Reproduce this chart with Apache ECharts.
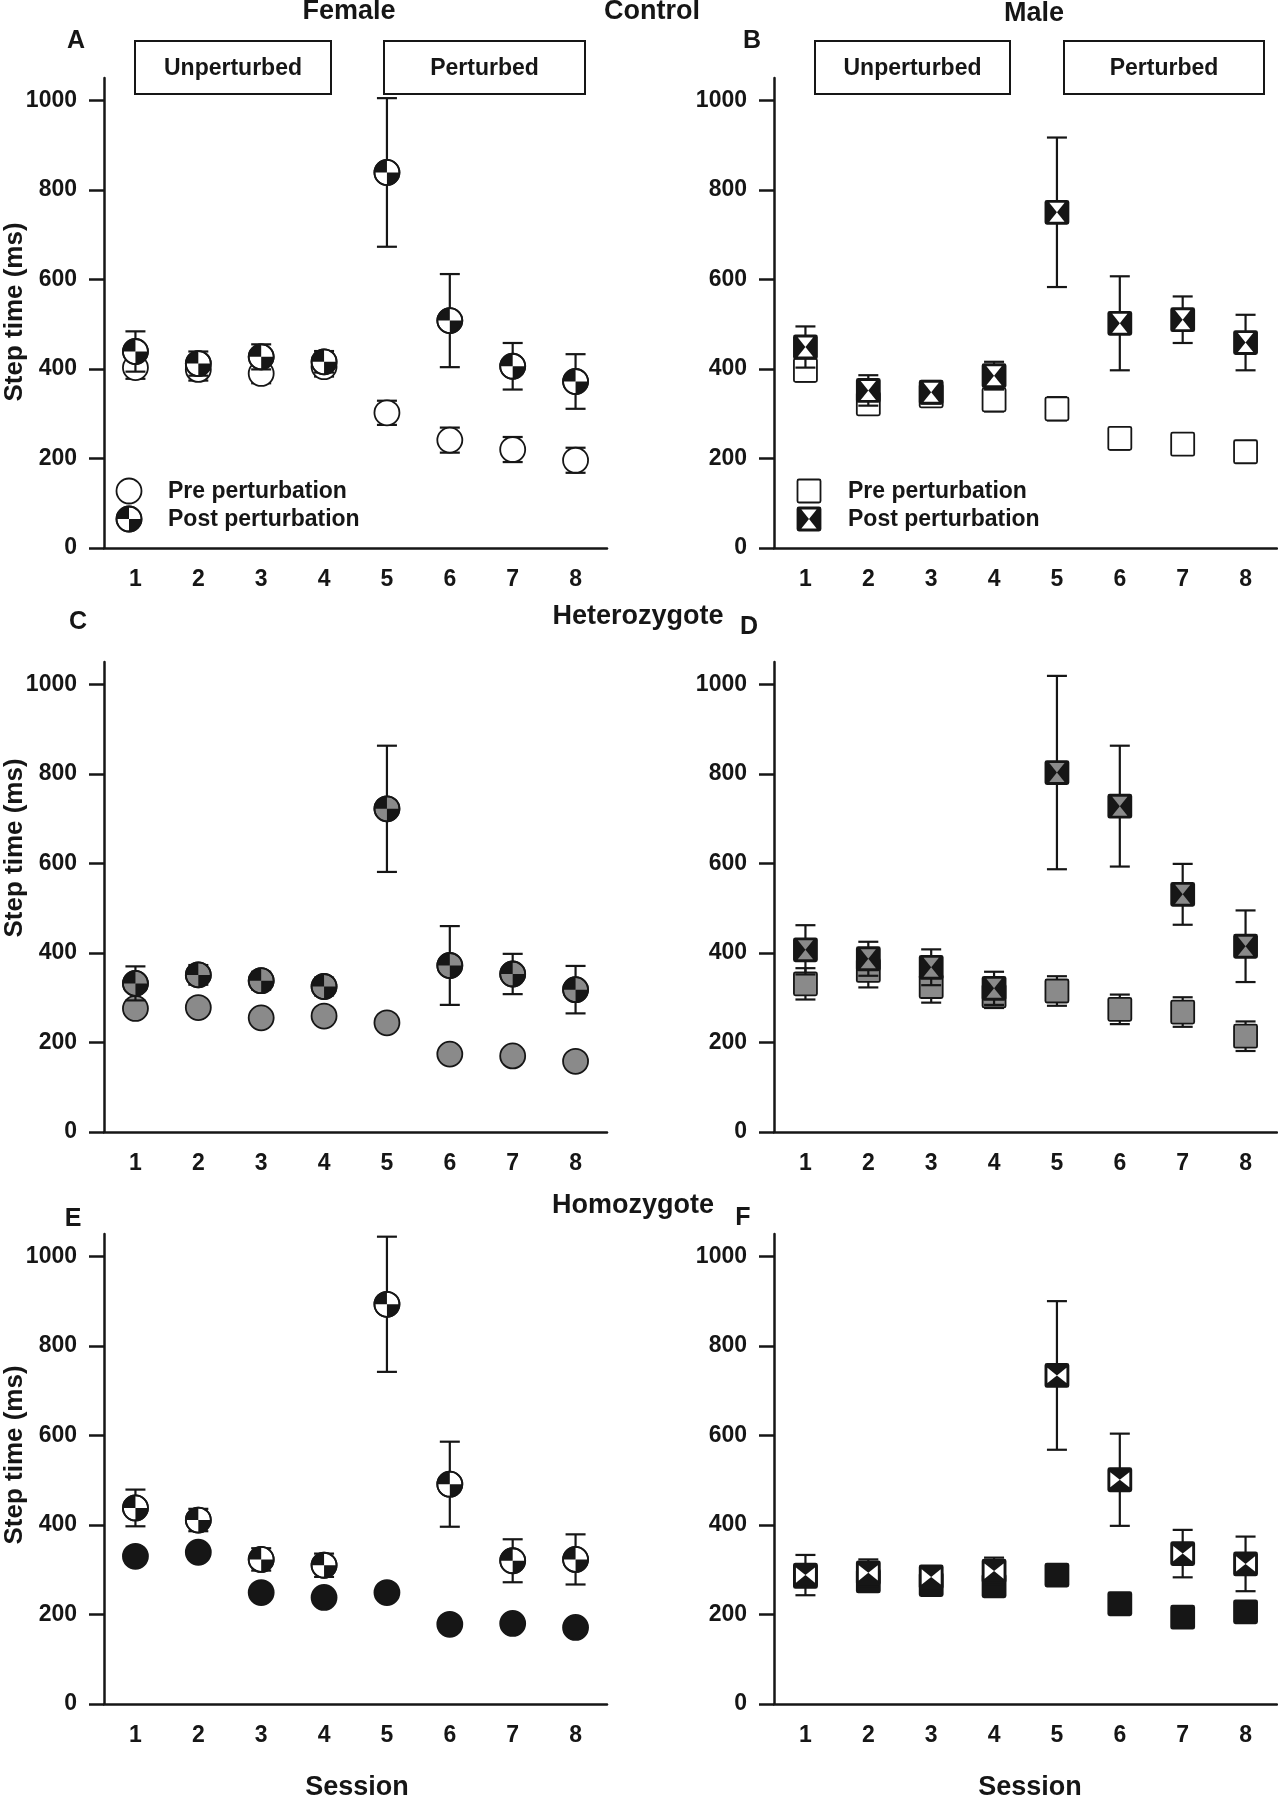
<!DOCTYPE html>
<html><head><meta charset="utf-8">
<script src="https://cdn.jsdelivr.net/npm/echarts@6/dist/echarts.min.js"></script>
<style>html,body{margin:0;padding:0;background:#fff}#c{width:1278px;height:1800px}</style>
</head><body><div id="c"></div>
<script>
// ---------------- DATA ----------------
const sessions = ['1','2','3','4','5','6','7','8'];
const yTicks = [0, 200, 400, 600, 800, 1000];

// A: Control, Female
const A_pre     = [403, 399, 390, 405, 302, 241, 220, 196];
const A_preErr  = [25, 25, 22, 22, 27, 28, 28, 28];
const A_post    = [439, 412, 427, 416, 839, 508, 406, 372];
const A_postErr = [45, 27, 28, 24, 166, 104, 52, 61];
// B: Control, Male
const B_pre     = [397, 322, 340, 331, 311, 245, 232, 215];
const B_preErr  = [25, 23, 20, 26, 26, 25, 24, 24];
const B_post    = [449, 352, 348, 385, 750, 502, 510, 459];
const B_postErr = [46, 34, 25, 31, 167, 105, 52, 62];
// C: Heterozygote, Female
const C_pre     = [276, 278, 255, 259, 244, 174, 170, 158];
const C_preErr  = [12, 12, 12, 12, 12, 12, 12, 12];
const C_post    = [332, 351, 338, 325, 722, 372, 353, 318];
const C_postErr = [38, 22, 20, 20, 141, 88, 45, 53];
// D: Heterozygote, Male
const D_pre     = [331, 361, 325, 304, 315, 274, 268, 214];
const D_preErr  = [35, 38, 36, 27, 33, 33, 33, 33];
const D_post    = [407, 387, 368, 321, 803, 728, 531, 415];
const D_postErr = [55, 38, 40, 37, 216, 135, 68, 80];
// E: Homozygote, Female
const E_pre     = [330, 339, 249, 238, 249, 178, 180, 171];
const E_preErr  = [12, 12, 12, 12, 12, 12, 12, 12];
const E_post    = [438, 411, 323, 310, 893, 491, 320, 323];
const E_postErr = [41, 25, 25, 26, 151, 95, 48, 56];
// F: Homozygote, Male
const F_pre     = [285, 275, 267, 264, 288, 224, 194, 206];
const F_preErr  = [12, 12, 12, 12, 12, 12, 12, 12];
const F_post    = [288, 293, 284, 297, 734, 501, 336, 313];
const F_postErr = [45, 30, 22, 30, 166, 103, 53, 61];

const legendLabels = ['Pre perturbation', 'Post perturbation'];
const boxLabels = ['Unperturbed', 'Perturbed'];

// ---------------- STYLE ----------------
const BLACK = '#161616';
const GRAY = '#8a8a8a';
const FONT = '"Liberation Sans", Arial, sans-serif';
const R = 12.5, S = 11.5, T = 7.6, LW = 1.8;

const M = {
  circleWhite: {shape: 'circle', fill: '#fff'},
  circleGray:  {shape: 'circle', fill: GRAY},
  circleBlack: {shape: 'circle', fill: BLACK},
  quartWhite:  {shape: 'circle', fill: '#fff', quart: BLACK},
  quartGray:   {shape: 'circle', fill: GRAY, quart: BLACK},
  squareWhite: {shape: 'square', fill: '#fff'},
  squareGray:  {shape: 'square', fill: GRAY},
  squareBlack: {shape: 'square', fill: BLACK},
  hourWhite:   {shape: 'square', fill: BLACK, tri: 'v', triFill: '#fff'},
  hourGray:    {shape: 'square', fill: BLACK, tri: 'v', triFill: GRAY},
  bowWhite:    {shape: 'square', fill: BLACK, tri: 'h', triFill: '#fff'}
};

function quadPts(cx, cy, r, a0, a1) {
  const pts = [[cx, cy]];
  const n = 18;
  for (let k = 0; k <= n; k++) {
    const a = a0 + (a1 - a0) * k / n;
    pts.push([cx + r * Math.cos(a), cy + r * Math.sin(a)]);
  }
  return pts;
}

function markerShapes(m, cx, cy) {
  const out = [];
  if (m.shape === 'circle') {
    out.push({type: 'circle', shape: {cx, cy, r: R}, style: {fill: m.fill, stroke: BLACK, lineWidth: LW}});
    if (m.quart) {
      out.push({type: 'polygon', shape: {points: quadPts(cx, cy, R, Math.PI, 1.5 * Math.PI)}, style: {fill: m.quart}});
      out.push({type: 'polygon', shape: {points: quadPts(cx, cy, R, 0, 0.5 * Math.PI)}, style: {fill: m.quart}});
      out.push({type: 'circle', shape: {cx, cy, r: R}, style: {fill: 'transparent', stroke: BLACK, lineWidth: LW}});
    }
  } else {
    out.push({type: 'rect', shape: {x: cx - S, y: cy - S, width: 2 * S, height: 2 * S, r: 1.5},
      style: {fill: m.fill, stroke: BLACK, lineWidth: LW}});
    const i = S - 2;
    if (m.tri === 'v') {
      out.push({type: 'polygon', shape: {points: [[cx - T, cy - i], [cx + T, cy - i], [cx, cy]]}, style: {fill: m.triFill}});
      out.push({type: 'polygon', shape: {points: [[cx - T, cy + i], [cx + T, cy + i], [cx, cy]]}, style: {fill: m.triFill}});
    } else if (m.tri === 'h') {
      out.push({type: 'polygon', shape: {points: [[cx - i, cy - T], [cx - i, cy + T], [cx, cy]]}, style: {fill: m.triFill}});
      out.push({type: 'polygon', shape: {points: [[cx + i, cy - T], [cx + i, cy + T], [cx, cy]]}, style: {fill: m.triFill}});
    }
  }
  return out;
}

function errRender(params, api) {
  const i = api.value(0), m = api.value(1), e = api.value(2);
  const t = api.coord([i, m + e]), b = api.coord([i, m - e]);
  const x = t[0], w = 10;
  const st = {stroke: BLACK, lineWidth: 2.2};
  return {type: 'group', children: [
    {type: 'line', shape: {x1: x, y1: t[1], x2: x, y2: b[1]}, style: st},
    {type: 'line', shape: {x1: x - w, y1: t[1], x2: x + w, y2: t[1]}, style: st},
    {type: 'line', shape: {x1: x - w, y1: b[1], x2: x + w, y2: b[1]}, style: st}
  ]};
}
function markRender(kind) {
  return function (params, api) {
    const p = api.coord([api.value(0), api.value(1)]);
    return {type: 'group', children: markerShapes(M[kind], p[0], p[1])};
  };
}

// ---------------- PANELS ----------------
const GW = 503, GH = 470;
const panels = [
  {left: 104, top: 78,   pre: A_pre, preErr: A_preErr, post: A_post, postErr: A_postErr, preK: 'circleWhite', postK: 'quartWhite'},
  {left: 774, top: 78,   pre: B_pre, preErr: B_preErr, post: B_post, postErr: B_postErr, preK: 'squareWhite', postK: 'hourWhite'},
  {left: 104, top: 662,  pre: C_pre, preErr: C_preErr, post: C_post, postErr: C_postErr, preK: 'circleGray',  postK: 'quartGray'},
  {left: 774, top: 662,  pre: D_pre, preErr: D_preErr, post: D_post, postErr: D_postErr, preK: 'squareGray',  postK: 'hourGray'},
  {left: 104, top: 1234, pre: E_pre, preErr: E_preErr, post: E_post, postErr: E_postErr, preK: 'circleBlack', postK: 'quartWhite'},
  {left: 774, top: 1234, pre: F_pre, preErr: F_preErr, post: F_post, postErr: F_postErr, preK: 'squareBlack', postK: 'bowWhite'}
];

const grid = [], xAxis = [], yAxis = [], series = [];
const labelStyle = {color: BLACK, fontSize: 23, fontWeight: 'bold', fontFamily: FONT};
panels.forEach((p, gi) => {
  grid.push({left: p.left, top: p.top, width: GW, height: GH});
  xAxis.push({
    type: 'category', gridIndex: gi, data: sessions, boundaryGap: true,
    axisLine: {lineStyle: {color: BLACK, width: 2.5}},
    axisTick: {alignWithLabel: true, length: 10, lineStyle: {color: BLACK, width: 2.5}},
    axisLabel: Object.assign({margin: 20}, labelStyle),
    splitLine: {show: false}
  });
  yAxis.push({
    type: 'value', gridIndex: gi, min: 0, max: 1050, interval: 200,
    axisLine: {show: true, lineStyle: {color: BLACK, width: 2.5}},
    axisTick: {show: true, length: 15, customValues: yTicks, lineStyle: {color: BLACK, width: 2.5}},
    axisLabel: Object.assign({margin: 27, customValues: yTicks, formatter: v => String(v)}, labelStyle),
    splitLine: {show: false}
  });
  const mk = (arr, err) => sessions.map((s, k) => [k, arr[k], err[k]]);
  const base = {type: 'custom', xAxisIndex: gi, yAxisIndex: gi, clip: false, silent: true, encode: {x: 0, y: 1}};
  series.push(Object.assign({}, base, {renderItem: errRender, data: mk(p.pre, p.preErr)}));
  series.push(Object.assign({}, base, {renderItem: markRender(p.preK), data: mk(p.pre, p.preErr)}));
  series.push(Object.assign({}, base, {renderItem: errRender, data: mk(p.post, p.postErr)}));
  series.push(Object.assign({}, base, {renderItem: markRender(p.postK), data: mk(p.post, p.postErr)}));
});

// ---------------- GRAPHIC ----------------
function txt(text, x, y, size, opts) {
  opts = opts || {};
  return {
    type: 'text', x: x, y: y, rotation: opts.rotation || 0, silent: true,
    style: {text: text, fill: BLACK, font: 'bold ' + size + 'px ' + FONT,
      align: opts.align || 'center', verticalAlign: 'middle',
      textAlign: opts.align || 'center', textVerticalAlign: 'middle'}
  };
}
function box(x, y, w, h, label) {
  return [
    {type: 'rect', shape: {x: x, y: y, width: w, height: h}, style: {fill: '#fff', stroke: BLACK, lineWidth: 2}, silent: true},
    txt(label, x + w / 2, y + h / 2 + 1, 23)
  ];
}
const graphic = [];
graphic.push(txt('Female', 349, 12, 27));
graphic.push(txt('Control', 652, 12, 27));
graphic.push(txt('Male', 1034, 14, 27));
graphic.push(txt('Heterozygote', 638, 617, 27));
graphic.push(txt('Homozygote', 633, 1206, 27));
graphic.push(txt('A', 76, 41, 25));
graphic.push(txt('B', 752, 41, 25));
graphic.push(txt('C', 78, 622, 25));
graphic.push(txt('D', 749, 627, 25));
graphic.push(txt('E', 73, 1219, 25));
graphic.push(txt('F', 743, 1218, 25));
graphic.push(txt('Session', 357, 1788, 27));
graphic.push(txt('Session', 1030, 1788, 27));
graphic.push(txt('Step time (ms)', 15, 312, 26, {rotation: Math.PI / 2}));
graphic.push(txt('Step time (ms)', 15, 848, 26, {rotation: Math.PI / 2}));
graphic.push(txt('Step time (ms)', 15, 1455, 26, {rotation: Math.PI / 2}));
box(135, 41, 196, 53, boxLabels[0]).forEach(g => graphic.push(g));
box(384, 41, 201, 53, boxLabels[1]).forEach(g => graphic.push(g));
box(815, 41, 195, 53, boxLabels[0]).forEach(g => graphic.push(g));
box(1064, 41, 200, 53, boxLabels[1]).forEach(g => graphic.push(g));
// legends
graphic.push({type: 'group', silent: true, children: markerShapes(M.circleWhite, 129, 491)});
graphic.push({type: 'group', silent: true, children: markerShapes(M.quartWhite, 129, 519)});
graphic.push(txt(legendLabels[0], 168, 492, 23, {align: 'left'}));
graphic.push(txt(legendLabels[1], 168, 520, 23, {align: 'left'}));
graphic.push({type: 'group', silent: true, children: markerShapes(M.squareWhite, 809, 491)});
graphic.push({type: 'group', silent: true, children: markerShapes(M.hourWhite, 809, 519)});
graphic.push(txt(legendLabels[0], 848, 492, 23, {align: 'left'}));
graphic.push(txt(legendLabels[1], 848, 520, 23, {align: 'left'}));

const chart = echarts.init(document.getElementById('c'), null, {renderer: 'canvas'});
chart.setOption({
  backgroundColor: '#fff',
  animation: false,
  grid: grid, xAxis: xAxis, yAxis: yAxis, series: series,
  graphic: graphic
});
</script>
</body></html>
